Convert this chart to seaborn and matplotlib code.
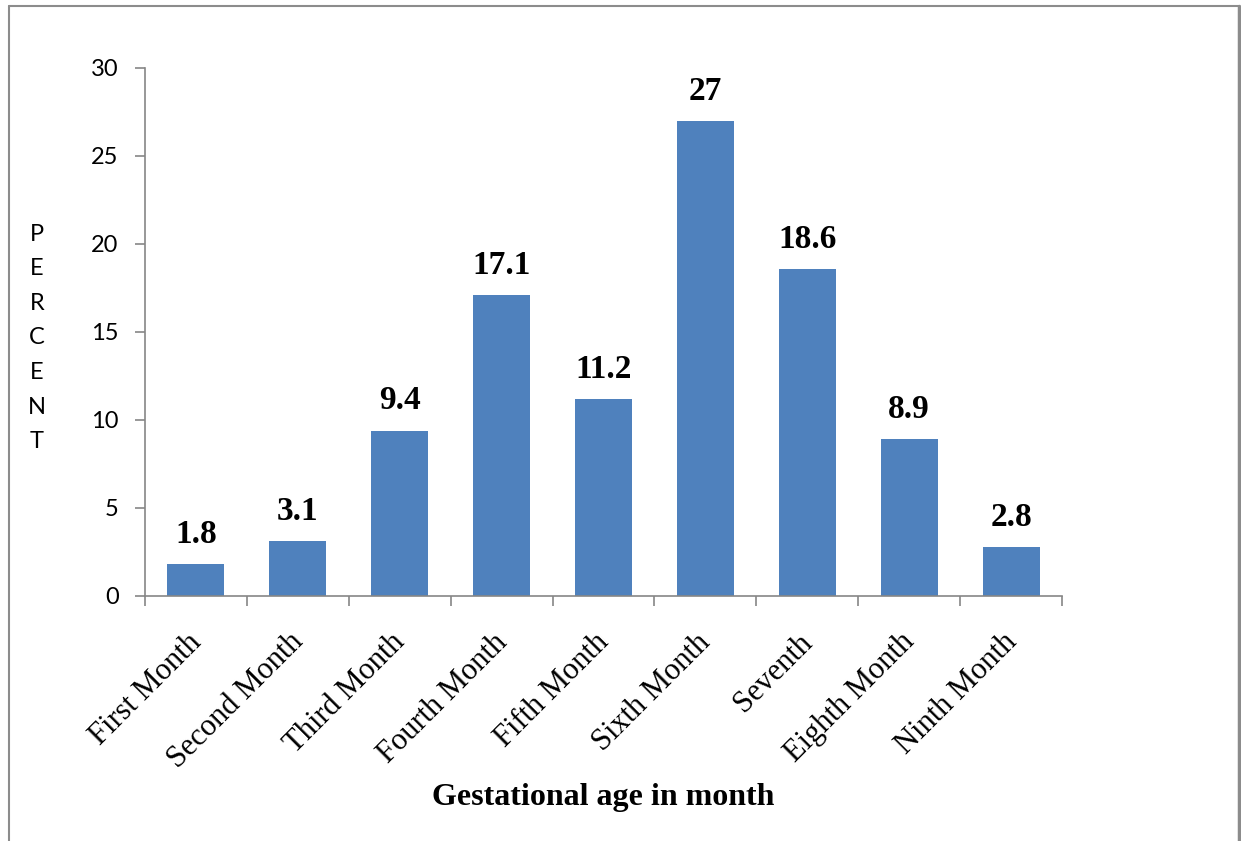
import matplotlib
matplotlib.use("Agg")
import matplotlib.pyplot as plt
import seaborn as sns
import pandas as pd
from matplotlib.lines import Line2D

months = ["First Month", "Second Month", "Third Month", "Fourth Month", "Fifth Month",
          "Sixth Month", "Seventh", "Eighth Month", "Ninth Month"]
percent = [1.8, 3.1, 9.4, 17.1, 11.2, 27, 18.6, 8.9, 2.8]
value_labels = ["1.8", "3.1", "9.4", "17.1", "11.2", "27", "18.6", "8.9", "2.8"]
y_ticks = [0, 5, 10, 15, 20, 25, 30]

df = pd.DataFrame({"month": months, "percent": percent})

sns.set_theme(style="white")
plt.rcParams["font.family"] = ["Lato", "DejaVu Sans"]
plt.rcParams["text.color"] = "black"
plt.rcParams["xtick.color"] = "black"
plt.rcParams["ytick.color"] = "black"

fig = plt.figure(figsize=(12.41, 8.41), dpi=100)
ax = fig.add_axes([145 / 1241, 1 - 596 / 841, (1062 - 145) / 1241, (596 - 68) / 841])

bar_color = "#4F81BD"
sns.barplot(data=df, x="month", y="percent", color=bar_color, saturation=1,
            width=0.56, ax=ax, edgecolor="none")

ax.set_xlim(-0.5, len(months) - 0.5)
ax.set_ylim(0, 30)
ax.set_yticks(y_ticks)
ax.set_yticklabels([str(t) for t in y_ticks], fontsize=17, color="black")

# category boundary ticks on the x axis
ax.set_xticks([i - 0.5 for i in range(len(months) + 1)])
ax.set_xticklabels([""] * (len(months) + 1))
ax.tick_params(axis="x", length=7, width=1.2, color="#868686", bottom=True)
ax.tick_params(axis="y", length=7, width=1.2, color="#868686", left=True, pad=12,
               labelcolor="black")

for i, name in enumerate(months):
    ax.text(i - 0.09, -0.06, name, transform=ax.get_xaxis_transform(),
            rotation=45, ha="right", va="top", rotation_mode="anchor",
            fontsize=22, family="Liberation Serif", color="black")

for spine in ["top", "right"]:
    ax.spines[spine].set_visible(False)
for spine in ["left", "bottom"]:
    ax.spines[spine].set_color("#868686")
    ax.spines[spine].set_linewidth(1.2)

for bar, lab in zip(ax.patches, value_labels):
    ax.text(bar.get_x() + bar.get_width() / 2, bar.get_height() + 0.8, lab,
            ha="center", va="bottom", fontsize=24, fontweight="bold",
            family="Liberation Serif", color="black")

ax.set_xlabel("")
ax.set_ylabel("")
fig.text(603 / 1241, 1 - 798 / 841, "Gestational age in month", ha="center", va="center",
         fontsize=23, fontweight="bold", family="Liberation Serif", color="black")
fig.text(37 / 1241, 1 - 338 / 841, "P\nE\nR\nC\nE\nN\nT", ha="center", va="center",
         fontsize=17, linespacing=1.8, color="black")

# outer frame (top, left, right)
fig.add_artist(Line2D([9 / 1241, 1239 / 1241], [1 - 6 / 841, 1 - 6 / 841],
                      transform=fig.transFigure, color="#8c8c8c", lw=1.5))
fig.add_artist(Line2D([9 / 1241, 9 / 1241], [0, 1 - 6 / 841],
                      transform=fig.transFigure, color="#8c8c8c", lw=1.5))
fig.add_artist(Line2D([1239 / 1241, 1239 / 1241], [0, 1 - 6 / 841],
                      transform=fig.transFigure, color="#8c8c8c", lw=2.5))

fig.savefig("out.png", dpi=100, facecolor="white")
